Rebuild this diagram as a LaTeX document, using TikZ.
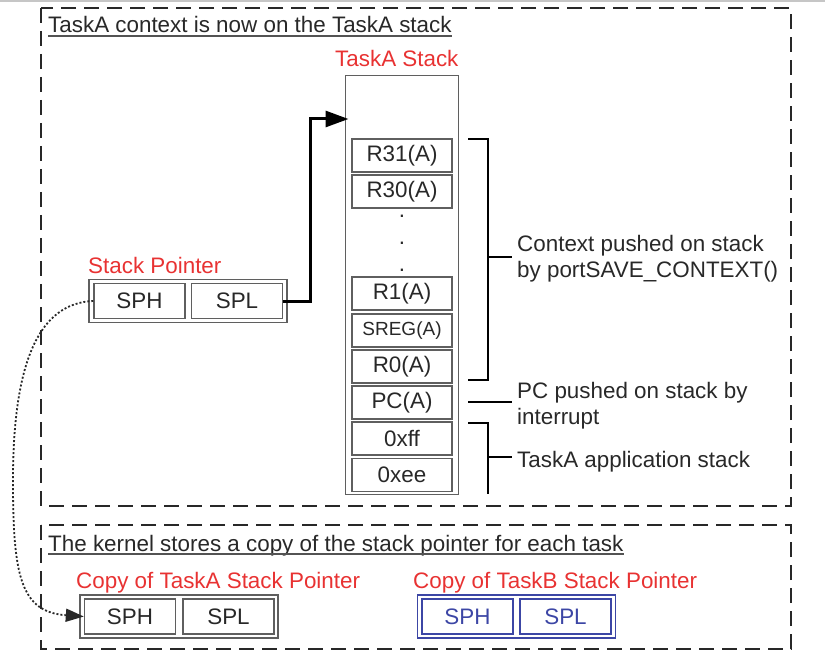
\documentclass[tikz,border=0pt]{standalone}
\usepackage{fontspec}
\setmainfont{Liberation Sans}
\usetikzlibrary{arrows.meta}
\definecolor{txt}{RGB}{40,40,40}
\definecolor{redlbl}{RGB}{232,50,50}
\definecolor{bluebox}{RGB}{60,70,165}
\definecolor{cellline}{RGB}{95,95,95}
\definecolor{dashcol}{RGB}{40,40,40}
\begin{document}
\begin{tikzpicture}[x=1pt,y=-1pt,
  every node/.style={font=\fontsize{22.4}{26}\selectfont, text=txt, inner sep=0pt},
  frame/.style={draw=dashcol, line width=2pt, dash pattern=on 15pt off 8pt},
  cell/.style={draw=cellline, line width=1.4pt, minimum width=100pt, minimum height=33pt},
  pcell/.style={draw=cellline, line width=1.4pt, minimum width=91pt, minimum height=35pt},
  holder/.style={draw=cellline, line width=1.3pt, minimum width=198pt, minimum height=43pt},
  bcell/.style={pcell, draw=bluebox, text=bluebox},
  bholder/.style={holder, draw=bluebox},
  redlab/.style={anchor=base west, text=redlbl},
  plain/.style={anchor=base west},
  brk/.style={draw=black, line width=2.5pt},
  uline/.style={draw=txt!80, line width=1.2pt},
  ptr/.style={draw=black, line width=3pt, -{Triangle[length=23pt,width=16pt]}},
  dotarrow/.style={draw=txt, line width=1.8pt, dash pattern=on 2pt off 2pt, -{Triangle[length=18pt,width=13pt]}}
]
\useasboundingbox (0,0) rectangle (825,655);
\fill[gray!45] (0,0) rectangle (825,2.5);

% frames
\draw[frame] (41,8) rectangle (791,506);
\draw[frame] (41,525) rectangle (791,649);

% titles
\node[plain] (t1) at (48,33) {TaskA context is now on the TaskA stack};
\draw[uline] ([yshift=-3pt]t1.base west) -- ([yshift=-3pt]t1.base east);
\node[plain] (t2) at (48,551) {The kernel stores a copy of the stack pointer for each task};
\draw[uline] ([yshift=-3pt]t2.base west) -- ([yshift=-3pt]t2.base east);

% stack column
\node[redlab] (stlab) at (335,67) {TaskA Stack};
\node[draw=cellline, line width=1pt, minimum width=113pt, minimum height=418pt] (col) at (401.5,285) {};
\node[cell] (r31) at (402,155.5) {R31(A)};
\node[cell] (r30) at (402,191.5) {R30(A)};
\node[anchor=base] (d1) at (402,218) {.};
\node[anchor=base] (d2) at (402,245) {.};
\node[anchor=base] (d3) at (402,272) {.};
\node[cell] (r1) at (402,293.5) {R1(A)};
\node[cell, font=\fontsize{19}{22}\selectfont] (sreg) at (402,330.5) {SREG(A)};
\node[cell] (r0) at (402,366.5) {R0(A)};
\node[cell] (pc) at (402,402.5) {PC(A)};
\node[cell] (xff) at (402,438.5) {0xff};
\node[cell] (xee) at (402,475) {0xee};

% brackets
\draw[brk] (468,139) -- (488,139) -- (488,380) -- (468,380);
\draw[brk] (488,257) -- (512,257);
\draw[brk] (468,402) -- (512,402);
\draw[brk] (468,423) -- (488,423) -- (488,494);
\draw[brk] (488,457) -- (512,457);
\node[plain] (c1) at (517,252) {Context pushed on stack};
\node[plain] (c2) at (517,278) {by portSAVE\_CONTEXT()};
\node[plain] (p1) at (517,398) {PC pushed on stack by};
\node[plain] (p2) at (517,424) {interrupt};
\node[plain] (a1) at (517,467) {TaskA application stack};

% stack pointer
\node[redlab] (splab) at (88,274) {Stack Pointer};
\node[holder] (sp) at (188,301) {};
\node[pcell] (sph) at (139.5,301) {SPH};
\node[pcell] (spl) at (237,301) {SPL};

% copies
\node[redlab] (calab) at (76,588) {Copy of TaskA Stack Pointer};
\node[holder] (ca) at (179,616.5) {};
\node[pcell] (csph) at (130,616.5) {SPH};
\node[pcell] (cspl) at (228.5,616.5) {SPL};

\node[redlab] (cblab) at (413,588) {Copy of TaskB Stack Pointer};
\node[bholder] (cb) at (516.5,616.5) {};
\node[bcell] (bsph) at (467.5,616.5) {SPH};
\node[bcell] (bspl) at (565.5,616.5) {SPL};

% connectors
\draw[ptr] (spl.east) -- ++(27,0) |- ([xshift=4pt]col.west |- 0,119);
\draw[dotarrow] (sph.west) .. controls (40,303) and (13,360) .. (13,480)
  .. controls (13,575) and (20,612) .. (csph.west);
\end{tikzpicture}
\end{document}
